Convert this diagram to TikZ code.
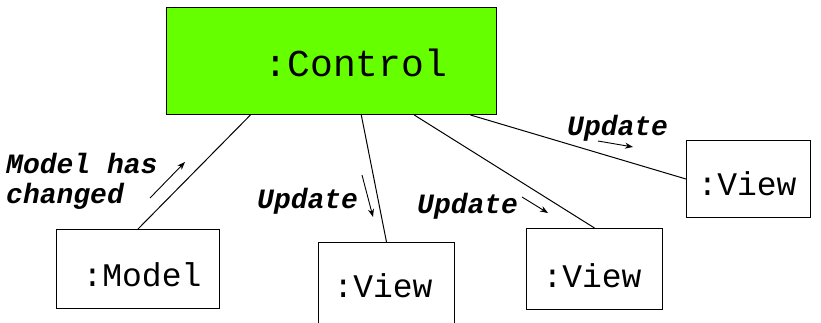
\documentclass[tikz,border=0pt]{standalone}
\usepackage{fontspec}
\newfontfamily\objfont{Liberation Mono}
\usetikzlibrary{arrows.meta,calc}

\definecolor{ctrlGreen}{HTML}{66FF00}

\tikzset{
  objbox/.style={draw, line width=1pt, inner sep=0pt, anchor=north west},
  ctrlbox/.style={objbox, fill=ctrlGreen},
  objtext/.style={anchor=base, inner sep=0pt, font=\objfont\fontsize{33}{40}\selectfont},
  ctrltext/.style={objtext, font=\objfont\fontsize{38}{46}\selectfont},
  msgtext/.style={anchor=base west, inner sep=0pt, align=left,
    font=\objfont\bfseries\itshape\fontsize{28}{30}\selectfont},
  link/.style={line width=1pt},
  msg/.style={line width=0.9pt, -{Stealth[length=8pt, width=6pt]}}
}

\begin{document}
\begin{tikzpicture}[x=1pt, y=-1pt]
  \useasboundingbox (0,0) rectangle (821,322);

  % objects
  \node[ctrlbox, minimum width=330pt, minimum height=107pt] (control) at (166,7) {};
  \node[objbox, minimum width=163pt, minimum height=79pt] (model) at (56,229) {};
  \node[objbox, minimum width=136pt, minimum height=95pt] (viewA) at (318,242) {};
  \node[objbox, minimum width=136pt, minimum height=81pt] (viewB) at (526,228) {};
  \node[objbox, minimum width=124pt, minimum height=77pt] (viewC) at (686,140) {};

  \node[ctrltext] (controltxt) at (356,76) {:Control};
  \node[objtext] (modeltxt) at (142,286) {:Model};
  \node[objtext] (viewAtxt) at (383,297) {:View};
  \node[objtext] (viewBtxt) at (592,287) {:View};
  \node[objtext] (viewCtxt) at (747,195) {:View};

  % links
  \draw[link] ($(control.south west)!0.255!(control.south east)$) -- (model.north);
  \draw[link] ($(control.south west)!0.59!(control.south east)$) -- (viewA.north);
  \draw[link] ($(control.south west)!0.75!(control.south east)$) -- (viewB.north);
  \draw[link] ($(control.south west)!0.92!(control.south east)$) -- (viewC.west);

  % messages
  \coordinate (m1s) at (150,198);
  \coordinate (m1e) at (185,162);
  \coordinate (u1s) at (362,175);
  \coordinate (u1e) at (373,217);
  \coordinate (u2s) at (522,197);
  \coordinate (u2e) at (548,213);
  \coordinate (u3s) at (598,141);
  \coordinate (u3e) at (633,147);
  \draw[msg] (m1s) -- (m1e);
  \draw[msg] (u1s) -- (u1e);
  \draw[msg] (u2s) -- (u2e);
  \draw[msg] (u3s) -- (u3e);

  \node[msgtext] (changed) at (6,203) {Model has\\changed};
  \node[msgtext] (upA) at (257,208) {Update};
  \node[msgtext] (upB) at (417,213) {Update};
  \node[msgtext] (upC) at (567,135) {Update};
\end{tikzpicture}
\end{document}
